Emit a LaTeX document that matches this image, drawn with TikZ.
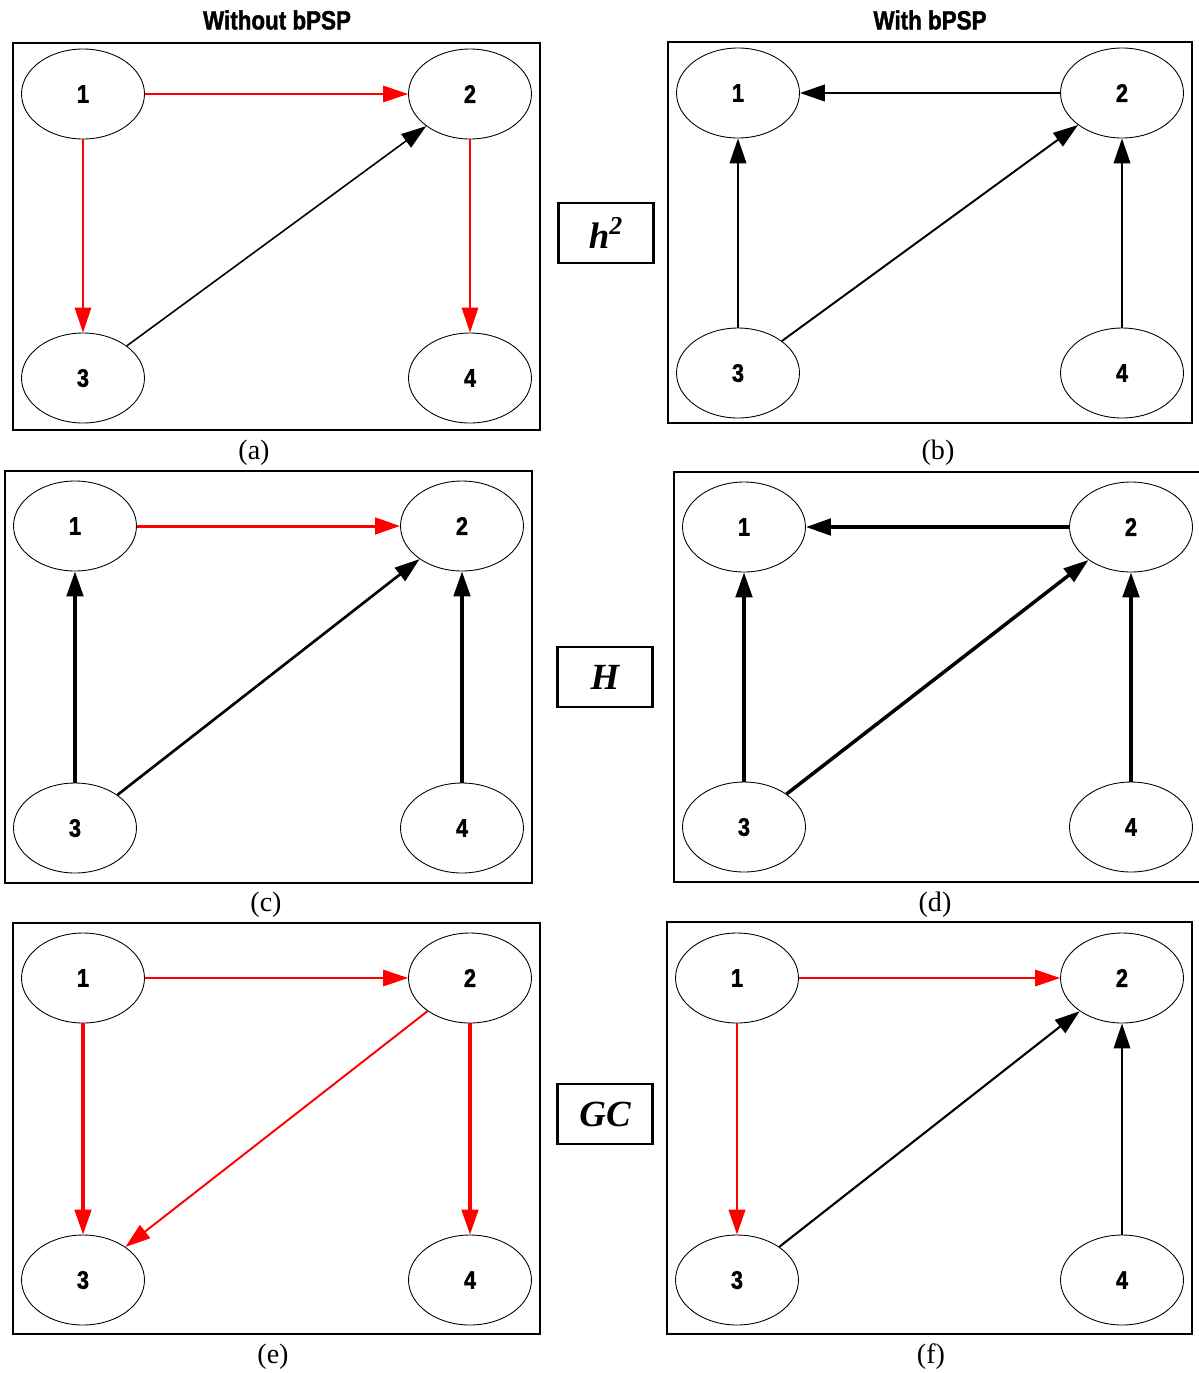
\documentclass[tikz,border=0pt]{standalone}
\usepackage{fontspec}
\setmainfont{Liberation Serif}
\setsansfont{Liberation Sans}
\newfontfamily\statefont{Liberation Sans}[FakeStretch=0.85,BoldFeatures={FakeBold=1.5}]
\usepackage{tikz}
\usetikzlibrary{shapes.geometric,arrows.meta,positioning}

\begin{document}
\begin{tikzpicture}[
    x=0.02cm, y=-0.02cm,
    state/.style={
        ellipse,
        draw=black,
        line width=0.5pt,
        minimum width=2.46cm,
        minimum height=1.8cm,
        inner sep=0pt,
        font=\statefont\bfseries\fontsize{14.5}{16}\selectfont
    },
    frame/.style={draw=black, line width=0.9pt},
    measure/.style={draw=black, line width=1.2pt, minimum width=1.9cm, minimum height=1.2cm,
        font=\rmfamily\bfseries\itshape\fontsize{21}{23}\selectfont},
    caption/.style={font=\rmfamily\fontsize{16}{18}\selectfont},
    heading/.style={font=\statefont\bfseries\fontsize{15}{17}\selectfont},
    redarrow/.style={-{Triangle[length=0.5cm,width=0.33cm]}, red, line width=#1},
    blackarrow/.style={-{Triangle[length=0.5cm,width=0.33cm]}, black, line width=#1}
]
\useasboundingbox (0,0) rectangle (1198,1373);

% Column headings
\node[heading] (headleft) at (277,20) {Without bPSP};
\node[heading] (headright) at (930,20) {With bPSP};

% (a)
\draw[frame] (13,43) rectangle (540,430);
\node[state] (a1) at (83,94) {1};
\node[state] (a2) at (470,94) {2};
\node[state] (a3) at (83,378) {3};
\node[state] (a4) at (470,378) {4};
\draw[redarrow=0.8pt] (a1) -- (a2);
\draw[redarrow=0.8pt] (a1) -- (a3);
\draw[redarrow=0.8pt] (a2) -- (a4);
\draw[blackarrow=0.9pt] (a3) -- (a2);
\node[caption] (capa) at (254,453) {(a)};

% (b)
\draw[frame] (668,42) rectangle (1192,423);
\node[state] (b1) at (738,93) {1};
\node[state] (b2) at (1122,93) {2};
\node[state] (b3) at (738,373) {3};
\node[state] (b4) at (1122,373) {4};
\draw[blackarrow=1.4pt] (b2) -- (b1);
\draw[blackarrow=1.4pt] (b3) -- (b1);
\draw[blackarrow=1.1pt] (b3) -- (b2);
\draw[blackarrow=1.4pt] (b4) -- (b2);
\node[caption] (capb) at (938,453) {(b)};

% measure h^2
\node[measure] (hsq) at (606,233) {h\textsuperscript{2}};

% (c)
\draw[frame] (5,471) rectangle (532,883);
\node[state] (c1) at (75,526) {1};
\node[state] (c2) at (462,526) {2};
\node[state] (c3) at (75,828) {3};
\node[state] (c4) at (462,828) {4};
\draw[redarrow=1.7pt] (c1) -- (c2);
\draw[blackarrow=2pt] (c3) -- (c1);
\draw[blackarrow=1.5pt] (c3) -- (c2);
\draw[blackarrow=2pt] (c4) -- (c2);
\node[caption] (capc) at (266,905) {(c)};

% (d)
\draw[frame] (674,472) rectangle (1210,882);
\node[state] (d1) at (744,527) {1};
\node[state] (d2) at (1131,527) {2};
\node[state] (d3) at (744,827) {3};
\node[state] (d4) at (1131,827) {4};
\draw[blackarrow=2pt] (d2) -- (d1);
\draw[blackarrow=2pt] (d3) -- (d1);
\draw[blackarrow=2pt] (d3) -- (d2);
\draw[blackarrow=2pt] (d4) -- (d2);
\node[caption] (capd) at (935,905) {(d)};

% measure H
\node[measure] (bigh) at (605,677) {H};

% (e)
\draw[frame] (13,923) rectangle (540,1334);
\node[state] (e1) at (83,978) {1};
\node[state] (e2) at (470,978) {2};
\node[state] (e3) at (83,1280) {3};
\node[state] (e4) at (470,1280) {4};
\draw[redarrow=0.8pt] (e1) -- (e2);
\draw[redarrow=1.8pt] (e1) -- (e3);
\draw[redarrow=1.1pt] (e2) -- (e3);
\draw[redarrow=1.8pt] (e2) -- (e4);
\node[caption] (cape) at (273,1357) {(e)};

% (f)
\draw[frame] (667,922) rectangle (1192,1334);
\node[state] (f1) at (737,978) {1};
\node[state] (f2) at (1122,978) {2};
\node[state] (f3) at (737,1280) {3};
\node[state] (f4) at (1122,1280) {4};
\draw[redarrow=0.9pt] (f1) -- (f2);
\draw[redarrow=1.5pt] (f1) -- (f3);
\draw[blackarrow=1.2pt] (f3) -- (f2);
\draw[blackarrow=1.1pt] (f4) -- (f2);
\node[caption] (capf) at (931,1357) {(f)};

% measure GC
\node[measure] (gc) at (605,1114) {GC};

\end{tikzpicture}
\end{document}
